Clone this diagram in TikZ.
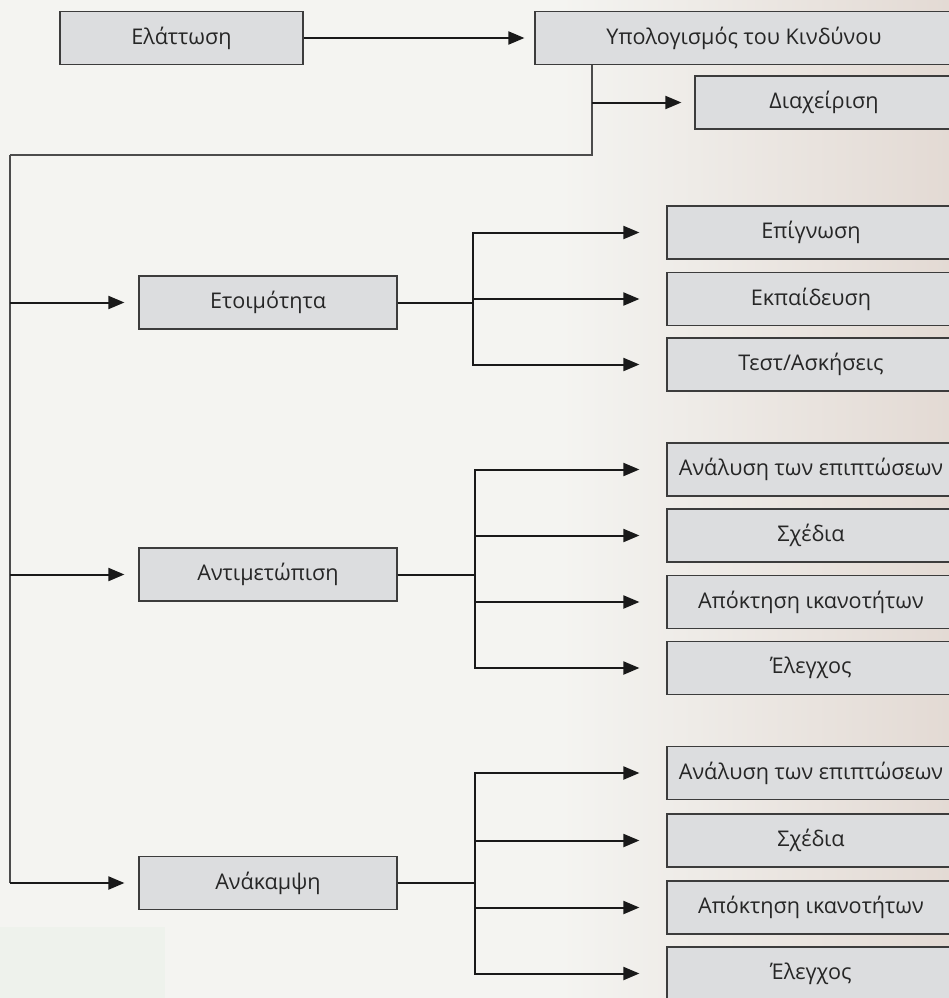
\documentclass[tikz,border=0pt]{standalone}
\usepackage{fontspec}
\setmainfont{Open Sans}
\usepackage{tikz}
\usetikzlibrary{arrows.meta}
\definecolor{boxfill}{HTML}{DCDDDF}
\definecolor{boxline}{HTML}{3C3C3C}
\definecolor{paper}{HTML}{F4F4F1}
\definecolor{warm}{HTML}{E3DAD4}
\definecolor{mint}{HTML}{EEF2EC}
\definecolor{ink}{HTML}{262626}
\tikzstyle{block} = [rectangle, minimum height=53pt, text centered, draw=boxline, line width=1.2pt, fill=boxfill, text=ink, font=\fontsize{21.6}{26}\selectfont, inner sep=0pt]
\tikzstyle{phase} = [block, minimum width=258pt]
\tikzstyle{leaf} = [block, minimum width=288pt]
\tikzstyle{wire} = [line width=1.3pt, draw=black!70]
\tikzstyle{arrow} = [line width=2pt, draw=black!90, -{Triangle[length=16pt,width=13pt]}]

\begin{document}
\begin{tikzpicture}[x=1pt, y=-1pt]
    \useasboundingbox (0,0) rectangle (949,998);
    \clip (0,0) rectangle (949,998);
    % background
    \fill [paper] (0,0) rectangle (949,998);
    \fill [left color=paper, right color=warm] (560,0) rectangle (949,998);
    \fill [mint] (0,927) rectangle (165,998);

    % top row
    \node (cut) [block, minimum width=243pt] at (181.5,38) {Ελάττωση};
    \node (risk) [block, minimum width=418pt] at (744,38) {Υπολογισμός του Κινδύνου};
    \node (manage) [phase] at (824,102.5) {Διαχείριση};

    % phases
    \node (prep) [phase] at (268,302.5) {Ετοιμότητα};
    \node (resp) [phase] at (268,574.5) {Αντιμετώπιση};
    \node (recov) [phase] at (268,883) {Ανάκαμψη};

    % leaves
    \node (aware) [leaf] at (811,232.5) {Επίγνωση};
    \node (train) [leaf] at (811,299) {Εκπαίδευση};
    \node (drill) [leaf] at (811,364.5) {Τεστ/Ασκήσεις};
    \node (impactA) [leaf] at (811,469.5) {Ανάλυση των επιπτώσεων};
    \node (planA) [leaf] at (811,535.5) {Σχέδια};
    \node (skillA) [leaf] at (811,602) {Απόκτηση ικανοτήτων};
    \node (ctrlA) [leaf] at (811,668) {Έλεγχος};
    \node (impactB) [leaf] at (811,773) {Ανάλυση των επιπτώσεων};
    \node (planB) [leaf] at (811,840.5) {Σχέδια};
    \node (skillB) [leaf] at (811,907.5) {Απόκτηση ικανοτήτων};
    \node (ctrlB) [leaf] at (811,973.5) {Έλεγχος};

    % trunk
    \coordinate (split) at (592,155);
    \coordinate (trunk) at (10,155);
    \draw [wire] (risk.south -| split) -- (split) -- (trunk);
    \draw [arrow, shorten >=10pt] (cut.east) -- (risk.west);
    \draw [arrow, shorten >=13pt] (split |- manage) -- (manage.west);
    \draw [wire] (trunk) -- (trunk |- recov);
    \foreach \p in {prep,resp,recov}
        \draw [arrow, shorten >=14pt] (trunk |- \p) -- (\p.west);

    % branches
    \foreach \c in {aware,train,drill}
        \draw [arrow, shorten >=27pt] (prep.east) -- ++(75,0) |- (\c.west);
    \foreach \c in {impactA,planA,skillA,ctrlA}
        \draw [arrow, shorten >=27pt] (resp.east) -- ++(77,0) |- (\c.west);
    \foreach \c in {impactB,planB,skillB,ctrlB}
        \draw [arrow, shorten >=27pt] (recov.east) -- ++(77,0) |- (\c.west);
\end{tikzpicture}
\end{document}
